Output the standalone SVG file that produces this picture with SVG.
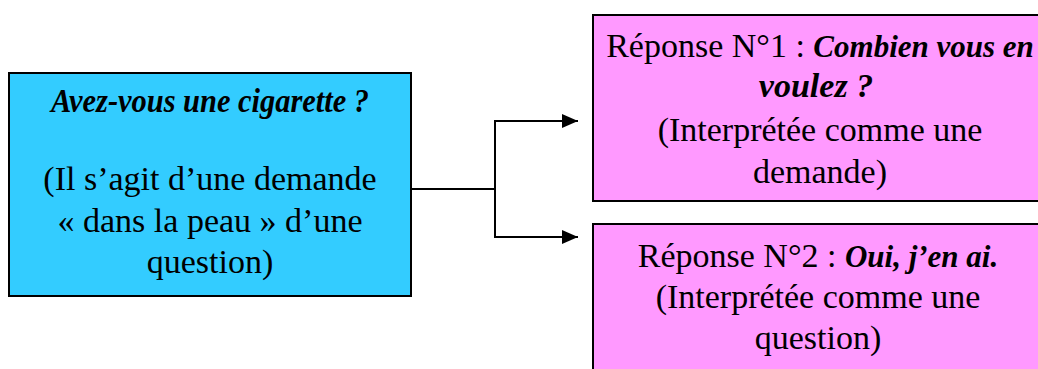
<svg xmlns="http://www.w3.org/2000/svg" width="1038" height="369" viewBox="0 0 1038 369">
  <defs>
    <style>
      .box { stroke: #000; stroke-width: 2; }
      .q { fill: #33CCFF; }
      .r { fill: #FF99FF; }
      .t { font-family: 'Liberation Serif', 'DejaVu Serif', serif; font-size: 34px; fill: #000; text-anchor: middle; }
      .it { font-style: italic; font-weight: bold; }
      .link { fill: none; stroke: #000; stroke-width: 2; }
    </style>
    <marker id="arrow" viewBox="0 0 16 14" refX="16" refY="7" markerWidth="16" markerHeight="14" markerUnits="userSpaceOnUse" orient="auto">
      <path d="M0,0 L16,7 L0,14 Z" fill="#000"/>
    </marker>
  </defs>

  <!-- question node -->
  <g id="question">
    <rect class="box q" x="9" y="73" width="402" height="223"/>
    <text class="t it" x="210" y="112" font-size="31" textLength="318" lengthAdjust="spacingAndGlyphs">Avez-vous une cigarette ?</text>
    <text class="t" x="210" y="190">(Il s’agit d’une demande</text>
    <text class="t" x="210" y="232">« dans la peau » d’une</text>
    <text class="t" x="210" y="273">question)</text>
  </g>

  <!-- first answer -->
  <g id="reponse1">
    <rect class="box r" x="593" y="15" width="455" height="186"/>
    <text class="t" x="820" y="57">Réponse N°1 : <tspan class="it" font-size="31">Combien vous en</tspan></text>
    <text class="t it" x="816" y="97" font-size="31">voulez ?</text>
    <text class="t" x="820" y="141">(Interprétée comme une</text>
    <text class="t" x="820" y="183">demande)</text>
  </g>

  <!-- second answer -->
  <g id="reponse2">
    <rect class="box r" x="593" y="224" width="455" height="160"/>
    <text class="t" x="818" y="267">Réponse N°2 : <tspan class="it" font-size="31">Oui, j’en ai.</tspan></text>
    <text class="t" x="818" y="308">(Interprétée comme une</text>
    <text class="t" x="818" y="349">question)</text>
  </g>

  <!-- connectors -->
  <g id="connectors">
    <line class="link" x1="411" y1="189" x2="496" y2="189" stroke-width="3"/>
    <path class="link" d="M495,189 V121 H578" marker-end="url(#arrow)"/>
    <path class="link" d="M495,189 V237 H578" marker-end="url(#arrow)"/>
  </g>
</svg>
